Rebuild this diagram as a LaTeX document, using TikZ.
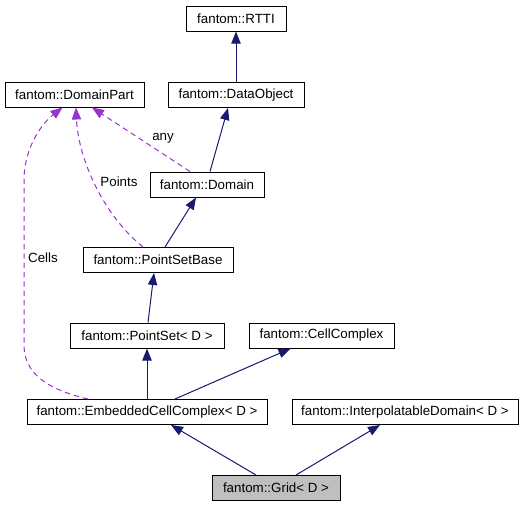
\documentclass[tikz,border=0pt]{standalone}
\usepackage{fontspec}
\setmainfont{Liberation Sans}
\usetikzlibrary{arrows.meta,calc}
\definecolor{edgeblue}{HTML}{191970}
\definecolor{edgepurple}{HTML}{9A32CD}
\definecolor{gridfill}{HTML}{BFBFBF}
\begin{document}
\begin{tikzpicture}[x=0.75pt,y=-0.75pt,
  cls/.style={draw=black,line width=0.75pt,fill=white,inner sep=0pt,minimum height=25*0.75pt,font=\fontsize{10pt}{12pt}\selectfont},
  inh/.style={draw=edgeblue,line width=0.75pt,-{Triangle[length=9pt,width=7pt]},color=edgeblue},
  use/.style={draw=edgepurple,line width=0.75pt,dash pattern=on 4pt off 3pt,-{Triangle[length=9pt,width=7pt]},color=edgepurple},
  lbl/.style={font=\fontsize{10pt}{12pt}\selectfont,inner sep=0pt}]
\useasboundingbox (0,0) rectangle (525,507);
\node[cls,minimum width=100*0.75pt] (rtti) at (236,18.5) {fantom::RTTI};
\node[cls,minimum width=136*0.75pt] (dataobject) at (236,95) {fantom::DataObject};
\node[cls,minimum width=139*0.75pt] (domainpart) at (74.5,94.5) {fantom::DomainPart};
\node[cls,minimum width=114*0.75pt] (domain) at (207,184.5) {fantom::Domain};
\node[cls,minimum width=150*0.75pt] (psb) at (158,260) {fantom::PointSetBase};
\node[cls,minimum width=154*0.75pt] (pointset) at (147,335.5) {fantom::PointSet< D >};
\node[cls,minimum width=145*0.75pt] (cellcomplex) at (321.5,335.5) {fantom::CellComplex};
\node[cls,minimum width=240*0.75pt] (ecc) at (147,412) {fantom::EmbeddedCellComplex< D >};
\node[cls,minimum width=226*0.75pt] (interp) at (405,412) {fantom::InterpolatableDomain< D >};
\node[cls,minimum width=128*0.75pt,fill=gridfill] (grid) at (276,488) {fantom::Grid< D >};
% inheritance
\draw[inh] (dataobject.north) -- (rtti.south);
\draw[inh] ($(domain.north)+(3,0)$) -- ($(dataobject.south)+(-8,0)$);
\draw[inh] ($(psb.north)+(7,0)$) -- ($(domain.south)+(-11,0)$);
\draw[inh] ($(pointset.north)+(1,0)$) -- ($(psb.south)+(-4,0)$);
\draw[inh] (ecc.north) -- (pointset.south);
\draw[inh] ($(ecc.north)+(28,0)$) -- ($(cellcomplex.south)+(-31,0)$);
\draw[inh] ($(grid.north)+(-20,0)$) -- ($(ecc.south)+(24,0)$);
\draw[inh] ($(grid.north)+(20,0)$) -- ($(interp.south)+(-25,0)$);
% usage
\draw[use] ($(domain.north)+(-17,0)$) -- ($(domainpart.south)+(17.5,0)$);
\draw[use] ($(psb.north)+(-15,0)$) .. controls (100,212) and (78,155) .. ($(domainpart.south)+(1.5,0)$);
\coordinate (c1) at (24,345);
\coordinate (c2) at (24,180);
\draw[use] ($(ecc.north)+(-59,0)$) .. controls (50,390) and (24,375) .. (c1) -- (c2) .. controls (24,150) and (40,125) .. ($(domainpart.south)+(-12,0)$);
\node[lbl] (lany) at (163,138) {any};
\node[lbl] (lpoints) at (119,182) {Points};
\node[lbl] (lcells) at (43,258) {Cells};
\end{tikzpicture}
\end{document}
